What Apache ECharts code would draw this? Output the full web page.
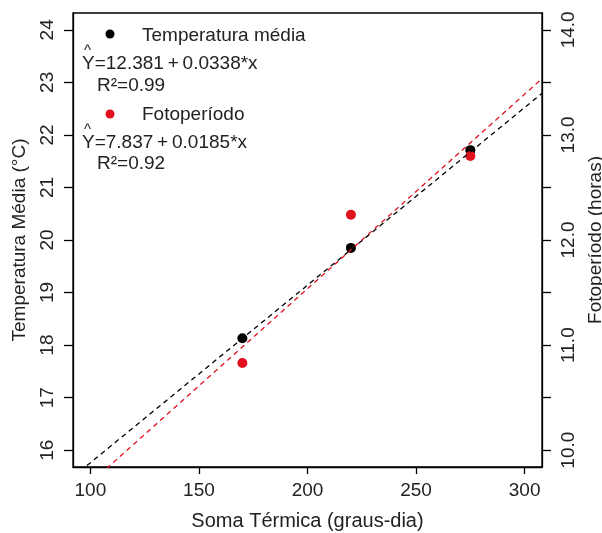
<!DOCTYPE html>
<html>
<head>
<meta charset="utf-8">
<script src="https://cdn.jsdelivr.net/npm/echarts@6/dist/echarts.min.js"></script>
<style>
  html, body { margin: 0; padding: 0; background: #fff; }
  #chart { width: 602px; height: 533px; }
</style>
</head>
<body>
<div id="chart"></div>
<script>
// Soma térmica acumulada (graus-dia) nos três períodos
const somaTermica = [170, 220, 275];
// Temperatura média (°C) — eixo esquerdo
const temperatura = [18.13, 19.85, 21.71];
// Fotoperíodo (horas) — eixo direito
const fotoperiodo = [10.83, 12.24, 12.80];

// Coeficientes das retas ajustadas: [intercepto, inclinação]
const ajusteTemp = [12.381, 0.0338];
const ajusteFoto = [7.837, 0.0185];

// Limites e marcas dos eixos
const xLim = [92, 308];
const xTicks = [100, 150, 200, 250, 300];
const yLimTemp = [15.68, 24.32];
const yTicksTemp = [16, 17, 18, 19, 20, 21, 22, 23, 24];
const yLimFoto = [9.84, 14.16];
const yTicksFoto = [10, 10.5, 11, 11.5, 12, 12.5, 13, 13.5, 14];
const yLabelsFoto = [10, 11, 12, 13, 14];

const FONT = '"Liberation Sans", Arial, sans-serif';
const FS = 19;
const TXT = '#222';
const RED = '#e0101c';

function reta(coef) {
  return xLim.map(x => [x, coef[0] + coef[1] * x]);
}

const chart = echarts.init(document.getElementById('chart'), null, { renderer: 'canvas' });

const lineStyleAxis = { color: '#000', width: 1.3 };
const labelStyle = { fontFamily: FONT, fontSize: FS, color: TXT };

function texto(x, y, s, size) {
  return {
    type: 'text', x: x, y: y,
    style: { text: s, font: (size || FS) + 'px ' + FONT, fill: TXT, align: 'left', verticalAlign: 'middle' }
  };
}

chart.setOption({
  animation: false,
  backgroundColor: '#fff',
  grid: {
    left: 73, right: 60, top: 13, bottom: 66,
    outerBoundsMode: 'none', containLabel: false,
    show: true, borderColor: '#000', borderWidth: 1.3, backgroundColor: 'transparent'
  },
  xAxis: {
    type: 'value',
    min: xLim[0], max: xLim[1],
    name: 'Soma Térmica (graus-dia)',
    nameLocation: 'middle', nameGap: 44,
    nameTextStyle: Object.assign({}, labelStyle, { fontSize: 20 }),
    splitLine: { show: false },
    axisLine: { show: true, onZero: false, lineStyle: lineStyleAxis },
    axisTick: { show: true, length: 7, customValues: xTicks, lineStyle: lineStyleAxis },
    axisLabel: Object.assign({ customValues: xTicks, margin: 14 }, labelStyle)
  },
  yAxis: [
    {
      type: 'value', position: 'left',
      min: yLimTemp[0], max: yLimTemp[1],
      name: 'Temperatura Média (°C)',
      nameLocation: 'middle', nameGap: 44,
      nameTextStyle: labelStyle,
      splitLine: { show: false },
      axisLine: { show: true, onZero: false, lineStyle: lineStyleAxis },
      axisTick: { show: true, length: 9, customValues: yTicksTemp, lineStyle: lineStyleAxis },
      axisLabel: Object.assign({ customValues: yTicksTemp, rotate: 90, margin: 16 }, labelStyle)
    },
    {
      type: 'value', position: 'right',
      min: yLimFoto[0], max: yLimFoto[1],
      name: 'Fotoperíodo (horas)',
      nameLocation: 'middle', nameGap: 40, nameRotate: 90,
      nameTextStyle: labelStyle,
      splitLine: { show: false },
      axisLine: { show: true, onZero: false, lineStyle: lineStyleAxis },
      axisTick: { show: true, length: 9, customValues: yTicksFoto, lineStyle: lineStyleAxis },
      axisLabel: Object.assign({
        customValues: yLabelsFoto, rotate: 90, margin: 17,
        formatter: v => Number(v).toFixed(1)
      }, labelStyle)
    }
  ],
  series: [
    {
      name: 'Temperatura média (ajuste)', type: 'line', yAxisIndex: 0,
      data: reta(ajusteTemp), showSymbol: false, clip: true, silent: true,
      lineStyle: { color: '#000', width: 1.3, type: [5, 4] }
    },
    {
      name: 'Fotoperíodo (ajuste)', type: 'line', yAxisIndex: 1,
      data: reta(ajusteFoto), showSymbol: false, clip: true, silent: true,
      lineStyle: { color: RED, width: 1.3, type: [5, 4] }
    },
    {
      name: 'Temperatura média', type: 'scatter', yAxisIndex: 0,
      data: somaTermica.map((x, i) => [x, temperatura[i]]),
      symbol: 'circle', symbolSize: 10, itemStyle: { color: '#000', opacity: 1 }
    },
    {
      name: 'Fotoperíodo', type: 'scatter', yAxisIndex: 1,
      data: somaTermica.map((x, i) => [x, fotoperiodo[i]]),
      symbol: 'circle', symbolSize: 10, itemStyle: { color: RED, opacity: 1 }
    }
  ],
  graphic: [
    // Legenda com as equações ajustadas
    { type: 'circle', shape: { cx: 110, cy: 34, r: 4.5 }, style: { fill: '#000' } },
    texto(142, 36, 'Temperatura média'),
    texto(84, 51, '^', 15),
    texto(82, 64, 'Y=12.381\u2009+\u20090.0338*x'),
    texto(97, 86, 'R²=0.99'),
    { type: 'circle', shape: { cx: 110, cy: 114, r: 4.5 }, style: { fill: RED } },
    texto(142, 115, 'Fotoperíodo'),
    texto(84, 130, '^', 15),
    texto(82, 143, 'Y=7.837\u2009+\u20090.0185*x'),
    texto(97, 164, 'R²=0.92')
  ]
});
</script>
</body>
</html>
